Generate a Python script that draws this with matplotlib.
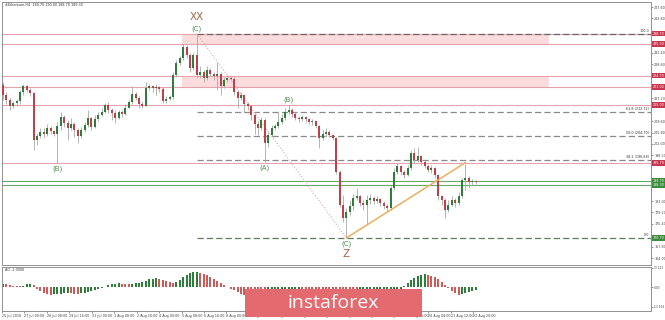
import numpy as np
import matplotlib.pyplot as plt
from matplotlib.patches import Rectangle

# H4 candles, 25 Jul - 22 Aug 2018 (open of each bar = close of the previous one)
first_open = 221.7
close = [218.3, 216.7, 214.7, 215.7, 216.3, 219.3, 221.3, 220.0, 219.0, 203.3,
         204.7, 206.0, 205.3, 207.3, 206.3, 205.3, 208.0, 211.0, 209.0, 207.3,
         208.7, 206.7, 204.7, 206.7, 208.3, 210.7, 207.7, 210.3, 211.7, 212.7,
         215.0, 213.3, 212.3, 210.7, 212.7, 212.0, 214.0, 216.0, 218.7, 217.3,
         215.3, 214.7, 220.7, 221.3, 220.7, 221.0, 220.3, 216.3, 217.0, 217.7,
         225.0, 229.0, 230.7, 234.3, 231.7, 227.3, 231.7, 225.0, 226.0, 224.0,
         226.7, 225.3, 224.7, 225.3, 221.3, 223.3, 224.0, 223.7, 219.3, 217.3,
         218.3, 215.3, 214.7, 211.7, 208.7, 207.3, 210.0, 202.3, 205.0, 207.3,
         208.0, 209.3, 210.7, 212.7, 213.3, 212.0, 210.7, 210.3, 211.0, 210.3,
         209.3, 209.7, 208.0, 204.0, 205.3, 206.0, 205.0, 204.0, 192.7, 181.7,
         177.3, 179.3, 181.3, 184.0, 184.7, 182.3, 181.7, 183.3, 184.0, 183.0,
         183.7, 182.3, 181.3, 180.7, 187.3, 192.7, 194.7, 192.7, 191.7, 194.0,
         199.0, 196.7, 198.0, 196.0, 194.7, 193.3, 194.0, 191.7, 184.7, 183.3,
         180.0, 181.7, 183.3, 182.3, 184.7, 190.0, 190.7, 189.3, 189.7, 189.3]
high = [222.7, 219.3, 217.3, 216.3, 217.0, 220.0, 222.0, 221.7, 220.7, 219.3,
        205.7, 207.3, 207.3, 208.7, 208.0, 206.7, 209.3, 212.7, 211.7, 210.0,
        210.7, 209.3, 207.3, 207.7, 209.3, 213.3, 211.0, 211.7, 212.7, 214.0,
        215.7, 216.0, 214.0, 213.3, 213.3, 213.3, 215.3, 216.7, 221.3, 219.3,
        218.0, 216.3, 222.7, 222.0, 221.7, 222.0, 221.3, 221.0, 218.0, 218.3,
        226.0, 230.0, 231.3, 235.3, 235.0, 232.3, 232.3, 238.7, 228.0, 226.7,
        228.0, 227.3, 226.0, 229.3, 226.0, 224.3, 225.0, 224.7, 224.3, 220.0,
        219.3, 218.7, 216.0, 215.0, 212.3, 209.7, 211.0, 210.7, 206.0, 208.3,
        208.7, 212.7, 212.0, 214.0, 215.0, 214.0, 212.7, 211.3, 211.7, 211.3,
        210.7, 210.3, 210.0, 208.3, 206.7, 207.3, 206.7, 205.3, 204.3, 193.3,
        185.0, 180.7, 183.3, 185.3, 187.3, 185.0, 183.3, 185.0, 185.3, 184.7,
        184.7, 184.0, 183.0, 182.0, 188.0, 194.0, 195.7, 195.0, 193.3, 195.0,
        200.0, 200.7, 201.0, 198.3, 196.7, 195.3, 195.0, 194.3, 192.0, 185.0,
        184.0, 183.3, 184.7, 184.0, 186.0, 190.7, 195.3, 191.3, 190.3, 190.0]
low = [216.7, 215.3, 213.3, 214.0, 214.7, 215.3, 218.3, 219.3, 218.0, 200.0,
       201.7, 204.0, 204.3, 204.7, 205.3, 204.7, 195.7, 206.7, 207.7, 203.3,
       206.7, 204.3, 202.3, 204.0, 206.0, 207.7, 206.7, 207.3, 209.7, 211.3,
       212.3, 212.3, 210.0, 209.0, 210.3, 211.0, 211.7, 214.0, 215.3, 216.7,
       214.0, 214.0, 214.7, 220.0, 219.3, 218.3, 219.3, 215.7, 215.7, 216.7,
       217.0, 224.3, 228.3, 230.0, 230.7, 226.0, 226.7, 224.0, 224.0, 222.7,
       223.3, 224.7, 223.3, 220.0, 218.3, 220.7, 222.7, 223.3, 218.3, 214.0,
       216.7, 212.7, 213.3, 210.0, 205.3, 205.0, 206.7, 196.0, 201.0, 204.3,
       206.7, 207.3, 208.7, 210.0, 212.0, 211.0, 210.0, 209.3, 209.7, 209.3,
       208.7, 208.3, 207.3, 200.7, 203.3, 204.3, 204.3, 203.3, 192.0, 181.0,
       176.0, 170.7, 178.3, 180.0, 183.3, 181.3, 180.0, 175.0, 182.0, 182.0,
       182.3, 181.3, 180.3, 179.3, 180.0, 186.7, 192.0, 191.7, 190.7, 191.3,
       193.3, 195.7, 196.0, 195.0, 194.0, 192.7, 192.3, 190.7, 183.3, 181.7,
       177.3, 179.3, 181.3, 181.0, 181.7, 184.0, 186.7, 187.3, 188.0, 188.7]

# Awesome Oscillator
ao = [2.3, 2.1, 1.6, 1.0, 0.6, 0.5, 1.0, 1.8, 2.2, 1.2,
      -1.0, -2.6, -4.0, -4.8, -5.2, -4.9, -4.6, -4.4, -4.2, -4.0,
      -4.1, -4.3, -4.4, -4.2, -3.7, -3.1, -2.6, -2.0, -1.3, -0.5,
      0.4, 1.2, 1.9, 2.4, 2.6, 2.4, 2.2, 2.0, 2.3, 2.7,
      3.0, 3.6, 4.4, 5.2, 5.8, 6.1, 5.8, 5.0, 4.1, 3.2,
      2.6, 3.4, 5.0, 6.8, 8.2, 9.3, 10.0, 10.1, 9.6, 8.9,
      7.9, 6.8, 5.6, 4.3, 2.9, 1.4, 0.2, -1.0, -2.2, -3.4,
      -4.6, -5.4, -6.0, -6.6, -7.4, -8.0, -8.9, -9.6, -9.5, -9.0,
      -8.2, -7.0, -5.8, -4.9, -3.8, -3.0, -2.6, -2.5, -2.6, -2.8,
      -3.0, -3.2, -3.6, -4.1, -4.8, -5.2, -5.4, -5.9, -7.2, -9.6,
      -12.0, -13.8, -14.9, -15.5, -15.6, -15.4, -15.0, -14.3, -13.4, -12.5,
      -11.6, -10.5, -9.5, -8.2, -6.6, -4.8, -3.0, -1.0, 1.0, 3.0,
      4.8, 6.4, 7.6, 8.3, 8.6, 8.4, 7.8, 6.8, 5.2, 3.3,
      1.2, -0.8, -2.6, -3.9, -5.2, -4.5, -4.0, -3.3, -2.6, -2.0]

zone_bands = [(235.3, 238.7), (221.0, 224.7)]
pink_levels = [238.7, 235.3, 224.7, 221.0, 215.0, 195.7]
green_levels = [189.7, 188.3]
fib_ratios = [0.0, 38.2, 50.0, 61.8, 100.0]

wave_text = ["(B)", "(C)", "(A)", "(B)", "(C)"]
wave_bar = [16, 57, 77, 84, 101]
wave_at = ["low", "high", "low", "high", "low"]
degree_text = ["XX", "Z"]
degree_bar = [57, 101]
trend_bars = [101, 113, 136]

time_labels = ["25 Jul 2018", "27 Jul 00:00", "28 Jul 08:00", "29 Jul 16:00", "31 Jul 00:00",
               "1 Aug 08:00", "2 Aug 16:00", "4 Aug 00:00", "5 Aug 08:00", "6 Aug 16:00",
               "8 Aug 00:00", "9 Aug 08:00", "10 Aug 16:00", "12 Aug 00:00", "13 Aug 08:00",
               "14 Aug 16:00", "16 Aug 00:00", "17 Aug 08:00", "18 Aug 16:00", "20 Aug 04:00",
               "21 Aug 12:00", "22 Aug 20:00"]
ao_ticks = [13.123, 0.0, -13.164]

opens = [first_open] + close[:-1]
n = len(close)
x = np.arange(n)

GREEN = '#2f7d3a'
RED = '#c0404a'
PINK = '#e4a3ad'
ZONE = '#fbdcdc'
LABEL_RED = '#c8364f'
LABEL_GREEN = '#3c8a3c'
FS = 2.4

fig = plt.figure(figsize=(6.65, 3.2), dpi=100)
ax = fig.add_axes([0.003, 0.172, 0.976, 0.822])
ax2 = fig.add_axes([0.003, 0.028, 0.976, 0.1375], sharex=ax)

xmax = 190.6
ax.set_xlim(-0.3, xmax)
ax.set_ylim(161.7, 249.3)

# zones and levels
for lo_, hi_ in zone_bands:
    ax.add_patch(Rectangle((52.6, lo_), 160.5 - 52.6, hi_ - lo_, facecolor=ZONE, edgecolor='none', zorder=0))
for lv in pink_levels:
    ax.axhline(lv, color=PINK, lw=0.8, zorder=1)
for lv in green_levels:
    ax.axhline(lv, color='#6aa86a', lw=0.8, zorder=1)

# fibonacci retracement from the (C) top to the Z low
fib_hi = high[wave_bar[1]]
fib_lo = low[wave_bar[4]]
for r in fib_ratios:
    p = fib_lo + r / 100 * (fib_hi - fib_lo)
    col = '#8a8a8a'
    if r == 100.0:
        col = '#666666'
    elif r == 0.0:
        col = '#5d7d5d'
    ax.plot([wave_bar[1], xmax], [p, p], color=col, lw=0.9, ls=(0, (5, 2.5)), zorder=2)
    txt = f"{r:.1f}" if r in (0.0, 100.0) else f"{r:.1f} ({p:.2f})"
    ax.text(0.997, p + 0.4, txt, transform=ax.get_yaxis_transform(), ha='right', va='bottom',
            fontsize=FS, color='#333333')

# dotted leg and orange trend line
ax.plot([wave_bar[1], wave_bar[4]], [fib_hi, fib_lo], color='#d8a8a8', lw=0.8, ls=':', zorder=2)
t0, t1, t2 = trend_bars
slope = (low[t1] - low[t0]) / (t1 - t0)
ax.plot([t0, t2], [low[t0], low[t0] + slope * (t2 - t0)], color='#e8b060', lw=1.1, zorder=4)

# candles
for i in range(n):
    o, c = opens[i], close[i]
    col = GREEN if c >= o else RED
    ax.vlines(i, low[i], high[i], color='#a8a8a8', lw=0.6, zorder=3)
    h = c - o if abs(c - o) > 0.15 else 0.15
    ax.bar(i, h, bottom=o, width=0.62, color=col, lw=0, zorder=3)

# wave labels
for t, b, at in zip(wave_text, wave_bar, wave_at):
    if at == 'low':
        ax.annotate(t, (b, low[b]), xytext=(0, -3), textcoords='offset pixels', ha='center', va='top',
                    fontsize=5, color='#4c8f4c')
    else:
        ax.annotate(t, (b, high[b]), xytext=(0, 2), textcoords='offset pixels', ha='center', va='bottom',
                    fontsize=5, color='#4c8f4c')
ax.annotate(degree_text[0], (degree_bar[0], high[degree_bar[0]]), xytext=(0, 12), textcoords='offset pixels',
            ha='center', va='bottom', fontsize=7.5, color='#a8654a')
ax.annotate(degree_text[1], (degree_bar[1], low[degree_bar[1]]), xytext=(0, -11), textcoords='offset pixels',
            ha='center', va='top', fontsize=7.5, color='#a8654a')

ax.text(0.004, 0.995, f"#Ethereum,H4  {opens[-1]:.2f} {high[-1]:.2f} {low[-1]:.2f} {close[-1]:.2f}",
        transform=ax.transAxes, ha='left', va='top', fontsize=FS, color='#333333')

# right price scale (plain ticks skipped where a level box sits)
boxed = pink_levels + green_levels + [fib_lo]
ticks = [t for t in np.arange(164.0, 249.0, 3.8) if min(abs(t - b) for b in boxed) > 1.6]
ax.yaxis.tick_right()
ax.set_yticks(ticks)
ax.yaxis.set_major_formatter(plt.FormatStrFormatter('%.2f'))
ax.tick_params(axis='y', labelsize=FS, length=1.5, pad=0.8, colors='#444444', width=0.4)
ax.tick_params(axis='x', bottom=False, labelbottom=False)
yt = ax.get_yaxis_transform()
for lv in pink_levels:
    ax.text(1.002, lv, f"{lv:.2f}", transform=yt, ha='left', va='center', fontsize=FS, color='white',
            bbox=dict(boxstyle='square,pad=0.2', fc=LABEL_RED, ec='none'), clip_on=False, zorder=6)
ax.text(1.002, np.mean(green_levels), f"{green_levels[0]:.2f}\n{green_levels[1]:.2f}", transform=yt,
        ha='left', va='center', fontsize=FS, color='white', linespacing=1.0,
        bbox=dict(boxstyle='square,pad=0.2', fc=LABEL_GREEN, ec='none'), clip_on=False, zorder=6)
ax.text(1.002, fib_lo, f"{fib_lo:.2f}", transform=yt, ha='left', va='center', fontsize=FS, color='white',
        bbox=dict(boxstyle='square,pad=0.2', fc=LABEL_GREEN, ec='none'), clip_on=False, zorder=6)

# oscillator
ao_col = [GREEN if i == 0 or ao[i] > ao[i - 1] else '#d05a5a' for i in range(n)]
ax2.bar(x, ao, width=0.6, color=ao_col, lw=0)
ax2.set_ylim(-16, 13.5)
ax2.yaxis.tick_right()
ax2.set_yticks(ao_ticks)
ax2.set_yticklabels([f"{v:.3f}" if v != 0 else "0.00" for v in ao_ticks])
ax2.tick_params(axis='y', labelsize=2.1, length=1.2, pad=0.5, colors='#444444', width=0.4)
ax2.text(0.004, 0.97, f"AO {ao[-1]:.4f}", transform=ax2.transAxes, ha='left', va='top',
         fontsize=FS, color='#333333')
ax2.set_xticks(np.arange(len(time_labels)) * 6.6 - 0.3)
ax2.set_xticklabels(time_labels, ha='left')
ax2.tick_params(axis='x', labelsize=FS, length=1.5, pad=0.8, colors='#444444', width=0.4)

for a in (ax, ax2):
    for s in a.spines.values():
        s.set_color('#909090')
        s.set_linewidth(0.7)

# watermark
fig.patches.append(Rectangle((0.368, 0.009), 0.266, 0.0875, transform=fig.transFigure,
                             facecolor='#e36a6e', edgecolor='none', zorder=10))
fig.text(0.501, 0.052, "instaforex", ha='center', va='center', fontsize=14, color='white',
         family='Open Sans', zorder=11)

fig.savefig('out.png', dpi=100)
